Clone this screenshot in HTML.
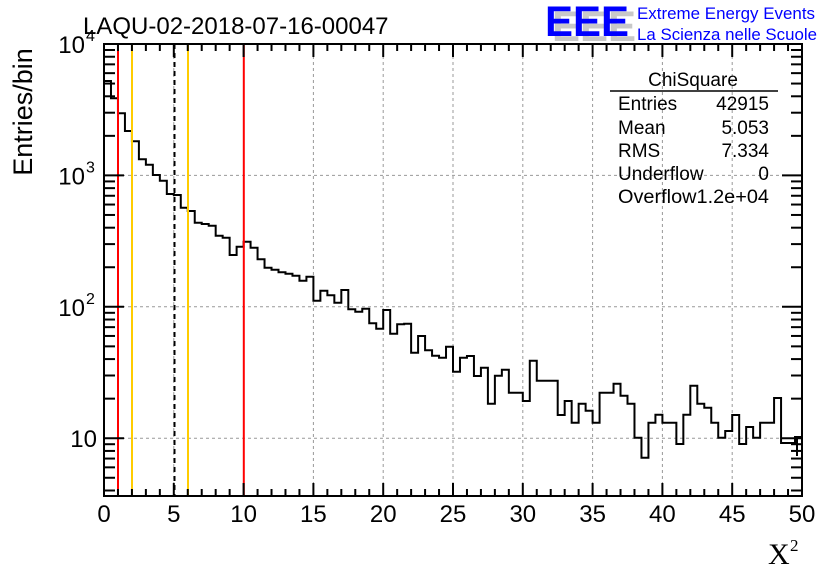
<!DOCTYPE html>
<html><head><meta charset="utf-8"><style>
html,body{margin:0;padding:0;background:#fff;width:836px;height:572px;overflow:hidden}
svg{display:block;font-family:"Liberation Sans",sans-serif}
</style></head><body>
<svg id="s" width="836" height="572" viewBox="0 0 836 572" xmlns="http://www.w3.org/2000/svg">
<rect width="836" height="572" fill="#fff"/>
<g id="grid" stroke="#999" stroke-width="1" stroke-dasharray="3,3" fill="none"></g>
<path id="hist" fill="none" stroke="#000" stroke-width="2"/>
<g stroke-width="2">
<line x1="118" y1="44" x2="118" y2="496" stroke="#f00"/>
<line x1="132" y1="44" x2="132" y2="496" stroke="#fc0"/>
<line x1="174.5" y1="44" x2="174.5" y2="496" stroke="#000" stroke-dasharray="5,4"/>
<line x1="188" y1="44" x2="188" y2="496" stroke="#fc0"/>
<line x1="243.8" y1="44" x2="243.8" y2="496" stroke="#f00"/>
</g>
<line x1="797" y1="437" x2="797" y2="456" stroke="#000" stroke-width="2"/>
<g id="ticks" stroke="#000" stroke-width="2"></g>
<rect x="104" y="44" width="698" height="452" fill="none" stroke="#000" stroke-width="2"/>
<g id="lbl" font-size="24" fill="#000"></g>
<text x="83" y="34" font-size="24">LAQU-02-2018-07-16-00047</text>
<text transform="translate(32,112) rotate(-90)" font-size="27" text-anchor="middle">Entries/bin</text>
<text x="768" y="564" font-size="30" font-family="Liberation Serif,serif">X</text>
<text x="790" y="551" font-size="17" font-family="Liberation Serif,serif">2</text>
<!-- stats -->
<text x="693" y="86" font-size="19" text-anchor="middle">ChiSquare</text>
<line x1="610" y1="91" x2="778" y2="91" stroke="#000" stroke-width="1.5"/>
<g font-size="19">
<text x="618" y="110">Entries</text><text x="769" y="110" text-anchor="end">42915</text>
<text x="618" y="134">Mean</text><text x="769" y="134" text-anchor="end">5.053</text>
<text x="618" y="157">RMS</text><text x="769" y="157" text-anchor="end">7.334</text>
<text x="618" y="180">Underflow</text><text x="769" y="180" text-anchor="end">0</text>
<text x="618" y="203" textLength="151" lengthAdjust="spacingAndGlyphs">Overflow1.2e+04</text>
</g>
<!-- logo -->
<text x="552" y="41" font-size="43" font-weight="bold" fill="#c8c8c8" textLength="84" lengthAdjust="spacingAndGlyphs">EEE</text>
<text x="545" y="36" font-size="43" font-weight="bold" fill="#0000ff" textLength="84" lengthAdjust="spacingAndGlyphs">EEE</text>
<text x="637" y="19" font-size="17" fill="#0000ff" textLength="178" lengthAdjust="spacingAndGlyphs">Extreme Energy Events</text>
<text x="637" y="40" font-size="17" fill="#0000ff" textLength="180" lengthAdjust="spacingAndGlyphs">La Scienza nelle Scuole</text>
</svg>
<script>
(function(){
var NS="http://www.w3.org/2000/svg";
function el(p,t,a,txt){var e=document.createElementNS(NS,t);for(var k in a)e.setAttribute(k,a[k]);if(txt!==undefined)e.textContent=txt;document.getElementById(p).appendChild(e);return e;}
var X0=104,X1=802,Y0=44,Y1=496;
function xp(v){return X0+(X1-X0)*v/50;}
function yp(v){return 44+(4-Math.log10(v))*131.4;}
for(var i=5;i<50;i+=5)el("grid","line",{x1:xp(i),y1:Y0,x2:xp(i),y2:Y1});
[10,100,1000].forEach(function(v){el("grid","line",{x1:X0,y1:yp(v),x2:X1,y2:yp(v)});});
for(var i=1;i<50;i++){var L=(i%5==0)?13:7;
 el("ticks","line",{x1:xp(i),y1:Y1,x2:xp(i),y2:Y1-L});
 el("ticks","line",{x1:xp(i),y1:Y0,x2:xp(i),y2:Y0+L});}
[1,10,100,1000].forEach(function(d){for(var m=1;m<10;m++){var v=d*m;var y=yp(v);if(y>Y1||y<Y0)continue;var L=(m==1)?20:11;
 el("ticks","line",{x1:X0,y1:y,x2:X0+L,y2:y});el("ticks","line",{x1:X1,y1:y,x2:X1-L,y2:y});}});
for(var i=0;i<=50;i+=5)el("lbl","text",{x:xp(i),y:522,"text-anchor":"middle"},""+i);
el("lbl","text",{x:97,y:447,"text-anchor":"end"},"10");
[[2,yp(100)],[3,yp(1000)],[4,yp(10000)]].forEach(function(a){
 el("lbl","text",{x:85,y:a[1]+9,"text-anchor":"end"},"10");
 el("lbl","text",{x:86,y:a[1]-3,"font-size":"16"},""+a[0]);});
var lv=[81,98.3,113.3,131,141.3,159.3,164.7,175,180.7,194,195,207.7,211,222.7,224,225.7,235.7,237.7,255,246.7,241.7,247.7,259.3,267.7,269.7,272.3,273.7,275.7,280.7,276.7,300.7,290.7,295.3,302.7,290,309.3,311.7,308.7,323.3,328.7,310,333.7,324.3,323.7,352.7,336,350.3,355.7,357.7,346.7,371.7,357.7,356,376,367.7,403.7,375.7,369.7,392.7,392.7,401,360.7,380.7,380.7,380.7,415,401,422.7,403.7,410.7,422.7,392.7,392.7,383.7,395.7,403.7,437.7,457.7,422.7,414.7,422.7,422.7,444,414.7,385.7,403.7,407.7,422.7,437.7,431,415,444,427,437.7,422.7,422.7,398,443,443,437];
var w=(X1-X0)/100,d="M"+X0+","+lv[0];
for(var k=0;k<100;k++){d+=" L"+(X0+k*w).toFixed(2)+","+lv[k]+" L"+(X0+(k+1)*w).toFixed(2)+","+lv[k];}
document.getElementById("hist").setAttribute("d",d);
})();
</script>
</body></html>
